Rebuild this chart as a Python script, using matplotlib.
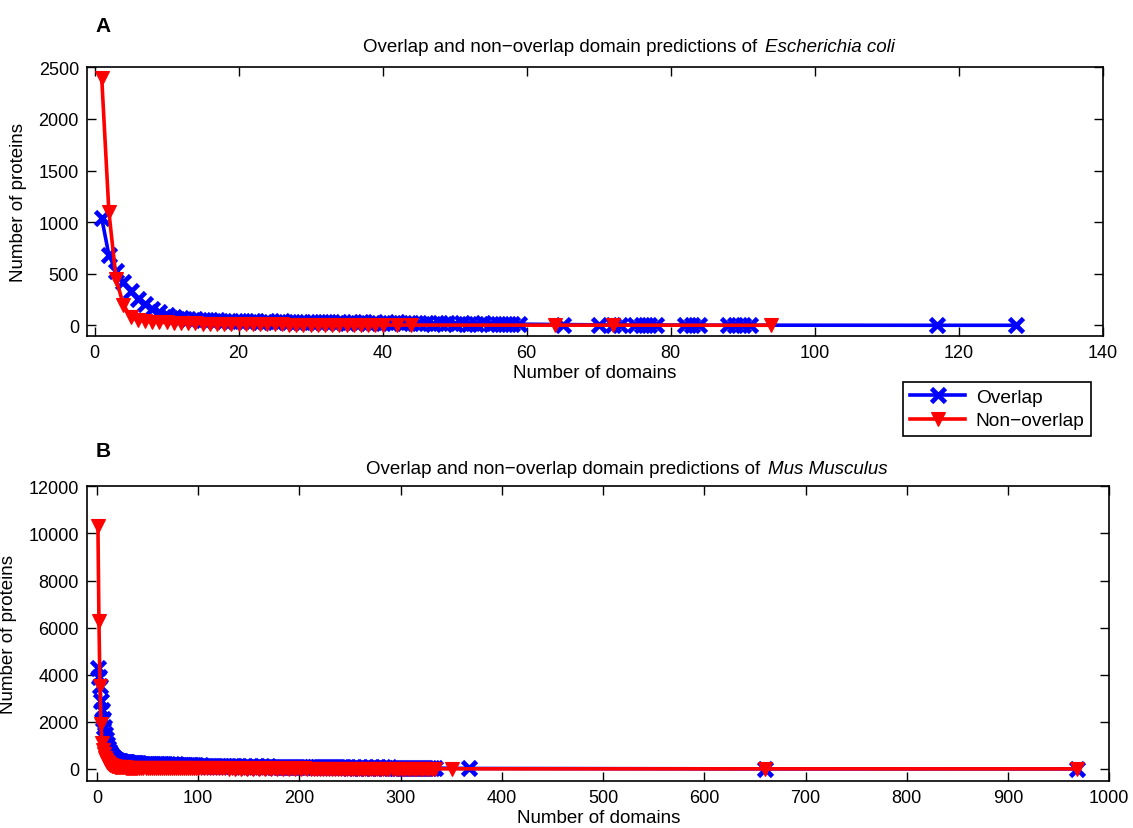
import matplotlib
matplotlib.use("Agg")
import matplotlib.pyplot as plt
from matplotlib.lines import Line2D

plt.rcParams['font.family'] = ['Liberation Sans', 'DejaVu Sans']

# ---------------- Panel A: Escherichia coli ----------------
ecoli_overlap_x = list(range(1, 60)) + [65, 70, 72, 73, 75, 76, 77, 78, 82, 83, 84,
                                         88, 89, 90, 91, 117, 128]
ecoli_overlap_y = [1040, 680, 530, 420, 330, 260, 210, 160, 125, 100,
                   85, 72, 65, 58, 55, 50, 48, 45, 42, 40,
                   38, 45, 36, 40, 34, 38, 32, 35, 30, 36,
                   28, 34, 30, 32, 26, 30, 28, 24, 30, 26,
                   22, 28, 24, 20, 26, 22, 18, 24, 20, 16,
                   22, 18, 15, 20, 16, 14, 18, 15, 12,
                   8, 5, 5, 4, 4, 4, 3, 3, 3, 2, 2, 2, 2, 2, 2, 1, 1]

ecoli_nonoverlap_x = list(range(1, 41)) + [42, 44, 64, 72, 94]
ecoli_nonoverlap_y = [2400, 1100, 450, 200, 85, 50, 40, 35, 30, 28,
                      25, 22, 20, 20, 18, 18, 15, 15, 15, 12,
                      12, 12, 10, 10, 10, 10, 8, 8, 8, 8,
                      6, 6, 6, 5, 5, 5, 5, 4, 4, 4,
                      3, 3, 2, 2, 1]

# ---------------- Panel B: Mus Musculus ----------------
mus_x = list(range(1, 41)) + list(range(42, 101, 2)) + list(range(103, 335, 3))

mus_overlap_x = mus_x + [368, 660, 968]
mus_overlap_y = [4300, 3900, 3500, 2900, 2500, 2100, 1800, 1500, 1250, 1050,
                 900, 780, 680, 600, 540, 490, 450, 420, 390, 370,
                 350, 340, 330, 320, 310, 300, 300, 290, 285, 280,
                 275, 270, 265, 260, 260, 255, 250, 250, 245, 240,
                 # 42..100 step 2
                 235, 215, 230, 210, 225, 205, 220, 200, 215, 195,
                 210, 190, 205, 185, 200, 180, 195, 175, 190, 170,
                 185, 165, 180, 160, 175, 155, 170, 150, 165, 145,
                 # 103..334 step 3
                 150, 128, 140, 120, 135, 118, 130, 112, 128, 110,
                 125, 105, 120, 100, 118, 98, 112, 96, 110, 95,
                 108, 90, 104, 88, 100, 86, 98, 82, 96, 80,
                 94, 78, 92, 76, 90, 74, 88, 72, 86, 70,
                 84, 68, 82, 66, 80, 64, 78, 62, 76, 60,
                 74, 58, 72, 56, 70, 55, 68, 54, 66, 52,
                 64, 50, 62, 48, 60, 46, 58, 45, 56, 44,
                 54, 42, 52, 40, 50, 38, 48, 36,
                 20, 2, 2]

mus_nonoverlap_x = mus_x + [351, 660, 968]
mus_nonoverlap_y = [10300, 6300, 3500, 1900, 1100, 820, 620, 480, 380, 300,
                    250, 210, 180, 155, 135, 120, 110, 100, 92, 85,
                    80, 76, 72, 70, 68, 66, 64, 62, 60, 58,
                    57, 56, 55, 54, 53, 52, 51, 50, 50, 49,
                    # 42..100 step 2
                    55, 40, 52, 38, 50, 36, 48, 35, 47, 34,
                    46, 33, 45, 32, 44, 31, 43, 30, 42, 29,
                    41, 28, 40, 27, 39, 26, 38, 25, 37, 24,
                    # 103..334 step 3
                    36, 22, 35, 21, 34, 20, 33, 19, 32, 18,
                    31, 17, 30, 16, 29, 15, 28, 14, 27, 13,
                    26, 12, 25, 11, 24, 10, 23, 10, 22, 9,
                    21, 9, 20, 8, 19, 8, 18, 7, 17, 7,
                    16, 6, 15, 6, 14, 5, 13, 5, 12, 5,
                    11, 4, 10, 4, 9, 4, 8, 3, 7, 3,
                    6, 3, 5, 2, 5, 2, 4, 2, 4, 2,
                    3, 1, 3, 1, 2, 1, 2, 1,
                    5, 2, 2]

series_labels = ["Overlap", "Non\u2212overlap"]
colors = ["#0000ff", "#ff0000"]

W, H = 1133, 829
fig = plt.figure(figsize=(W / 100, H / 100), dpi=100)


def px_rect(l, t, r, b):
    return [l / W, 1 - b / H, (r - l) / W, (b - t) / H]


axA = fig.add_axes(px_rect(87.3, 68.3, 1102.7, 336.7))
axB = fig.add_axes(px_rect(87.3, 487.3, 1109.3, 781.7))

lw = 2.6
ov_style = dict(color=colors[0], lw=lw, marker='x', ms=10, mew=3.4)
nov_style = dict(color=colors[1], lw=lw, marker='v', ms=10.5, mew=0.8)

axA.plot(ecoli_overlap_x, ecoli_overlap_y, **ov_style, zorder=3)
axA.plot(ecoli_nonoverlap_x, ecoli_nonoverlap_y, **nov_style, zorder=4)
axA.set_xlim(-1, 140)
axA.set_ylim(-100, 2500)
axA.set_xticks(range(0, 141, 20))
axA.set_yticks(range(0, 2501, 500))

axB.plot(mus_overlap_x, mus_overlap_y, **ov_style, zorder=3)
axB.plot(mus_nonoverlap_x, mus_nonoverlap_y, **nov_style, zorder=4)
axB.set_xlim(-9.5, 1000)
axB.set_ylim(-500, 12000)
axB.set_xticks(range(0, 1001, 100))
axB.set_yticks(range(0, 12001, 2000))

for ax in (axA, axB):
    ax.tick_params(direction='in', length=6.5, width=1, top=True, right=True,
                   labelsize=13, pad=6, colors='black')
    for sp in ax.spines.values():
        sp.set_linewidth(1.2)
    ax.set_xlabel("Number of domains", fontsize=13.5, labelpad=2)
    ax.set_ylabel("Number of proteins", fontsize=13.5, labelpad=8)

# titles (normal + italic parts)
fig.text(757 / W, 1 - 47 / H, "Overlap and non\u2212overlap domain predictions of",
         ha='right', va='center', fontsize=13.5)
fig.text(765 / W, 1 - 47 / H, "Escherichia coli", ha='left', va='center',
         fontsize=13.5, style='italic')
fig.text(760 / W, 1 - 470 / H, "Overlap and non\u2212overlap domain predictions of",
         ha='right', va='center', fontsize=13.5)
fig.text(768 / W, 1 - 470 / H, "Mus Musculus", ha='left', va='center',
         fontsize=13.5, style='italic')

fig.text(103 / W, 1 - 27 / H, "A", ha='center', va='center', fontsize=15,
         fontweight='bold')
fig.text(103 / W, 1 - 452 / H, "B", ha='center', va='center', fontsize=15,
         fontweight='bold')

handles = [Line2D([], [], **ov_style), Line2D([], [], **nov_style)]
leg = fig.legend(handles, series_labels, loc='upper left',
                 bbox_to_anchor=(903 / W, 1 - 383 / H), fontsize=13.8,
                 frameon=True, fancybox=False, handlelength=2.9,
                 borderpad=0.35, labelspacing=0.3, handletextpad=0.55,
                 borderaxespad=0, framealpha=1)
leg.get_frame().set_edgecolor('black')
leg.get_frame().set_linewidth(1.2)

fig.savefig("out.png", dpi=100)
